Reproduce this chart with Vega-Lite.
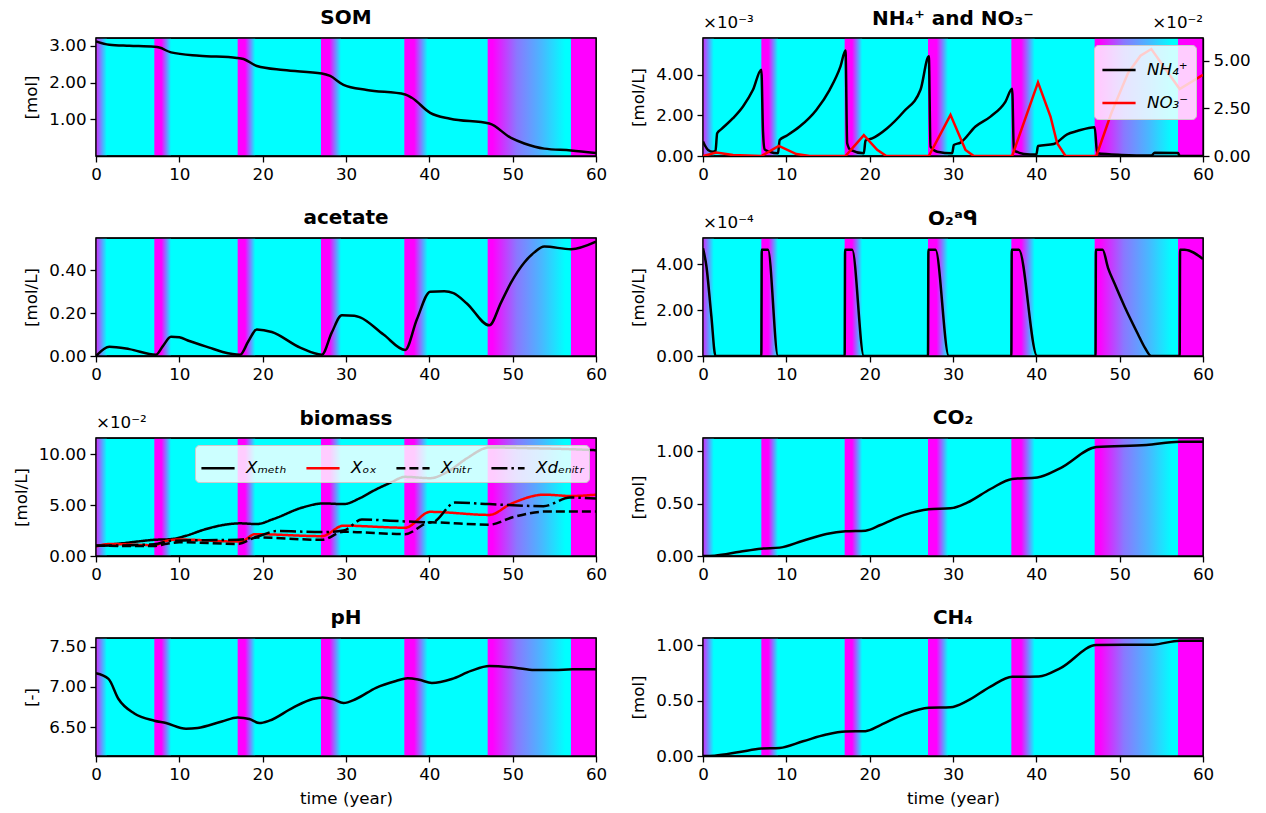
{
"$schema": "https://vega.github.io/schema/vega-lite/v6.json",
"padding": {"left": 12, "top": 7, "right": 5, "bottom": 5},
"bounds": "flush",
"columns": 2,
"spacing": {"row": 82, "column": 107},
"datasets": {
"bf": [{"t":0,"t2":1.3}],
"bs": [{"t":7,"t2":9.0},{"t":17,"t2":19.1},{"t":27,"t2":29.4},{"t":37,"t2":39.8}],
"bl": [{"t":47,"t2":57}],
"be": [{"t":57,"t2":60}],
"fr": [{"t":0,"t2":60}],
"som": [{"t":0,"v":3.12},{"t":1.6,"v":3.03},{"t":4,"v":3.0},{"t":7,"v":2.97},{"t":7.6,"v":2.95},{"t":9.0,"v":2.82},{"t":12.4,"v":2.73},{"t":16.9,"v":2.67},{"t":17.7,"v":2.64},{"t":19.3,"v":2.45},{"t":22.5,"v":2.34},{"t":27.1,"v":2.25},{"t":28.1,"v":2.18},{"t":29.7,"v":1.94},{"t":32.5,"v":1.80},{"t":37.1,"v":1.68},{"t":37.9,"v":1.59},{"t":40.1,"v":1.18},{"t":42.5,"v":1.02},{"t":47.2,"v":0.89},{"t":49.8,"v":0.50},{"t":51.4,"v":0.35},{"t":53.8,"v":0.21},{"t":57,"v":0.16},{"t":60,"v":0.09}],
"ace": [{"t":0,"v":0},{"t":1.6,"v":0.043},{"t":4,"v":0.032},{"t":7.2,"v":0.006},{"t":8.0,"v":0.045},{"t":9.0,"v":0.090},{"t":10.0,"v":0.087},{"t":11.2,"v":0.07},{"t":13.6,"v":0.039},{"t":15.2,"v":0.019},{"t":17.3,"v":0.006},{"t":18.3,"v":0.07},{"t":19.3,"v":0.124},{"t":21.1,"v":0.112},{"t":24.5,"v":0.039},{"t":27.1,"v":0.006},{"t":28.3,"v":0.11},{"t":29.5,"v":0.19},{"t":31.0,"v":0.188},{"t":31.7,"v":0.18},{"t":34.5,"v":0.10},{"t":37.1,"v":0.028},{"t":38.5,"v":0.17},{"t":40.1,"v":0.30},{"t":41.8,"v":0.302},{"t":42.9,"v":0.293},{"t":44.5,"v":0.245},{"t":47.2,"v":0.143},{"t":48.6,"v":0.249},{"t":49.8,"v":0.342},{"t":51.4,"v":0.436},{"t":52.6,"v":0.483},{"t":53.8,"v":0.51},{"t":57,"v":0.498},{"t":60,"v":0.533}],
"nh4": [{"t":0,"v":0.00071},{"t":0.2,"v":0.00054},{"t":0.6,"v":0.00030},{"t":1.2,"v":0.00021},{"t":1.5,"v":0.00025},{"t":1.7,"v":0.00112},{"t":2.2,"v":0.00132},{"t":3.6,"v":0.00186},{"t":4.8,"v":0.00244},{"t":6.0,"v":0.00326},{"t":7.0,"v":0.00425},{"t":7.2,"v":0.00120},{"t":7.4,"v":0.00033},{"t":8.0,"v":0.00021},{"t":9.0,"v":0.00013},{"t":9.2,"v":0.00079},{"t":10.0,"v":0.00099},{"t":11.6,"v":0.00145},{"t":13.6,"v":0.00227},{"t":15.2,"v":0.00326},{"t":16.5,"v":0.00441},{"t":17.1,"v":0.00519},{"t":17.3,"v":0.00063},{"t":17.7,"v":0.00030},{"t":19.3,"v":0.00013},{"t":19.5,"v":0.00076},{"t":20.3,"v":0.00087},{"t":22.1,"v":0.00137},{"t":24.1,"v":0.00219},{"t":26.1,"v":0.00326},{"t":27.1,"v":0.00491},{"t":27.3,"v":0.00046},{"t":28.1,"v":0.00021},{"t":29.9,"v":0.00013},{"t":30.1,"v":0.00054},{"t":30.9,"v":0.00066},{"t":32.7,"v":0.00145},{"t":34.5,"v":0.00194},{"t":36.3,"v":0.00268},{"t":37.1,"v":0.00331},{"t":37.3,"v":0.00030},{"t":38.5,"v":0.00010},{"t":40.0,"v":0.00007},{"t":40.2,"v":0.00049},{"t":42.1,"v":0.00059},{"t":43.7,"v":0.00107},{"t":44.9,"v":0.00123},{"t":47.0,"v":0.00142},{"t":47.3,"v":0.00013},{"t":50.2,"v":0.00005},{"t":53.8,"v":0.00002},{"t":54.2,"v":0.00016},{"t":57.0,"v":0.00015},{"t":57.2,"v":0.0},{"t":60,"v":0.0}],
"no3": [{"t":0,"v":0},{"t":1.6,"v":0.0018},{"t":3.6,"v":0.0005},{"t":7,"v":0},{"t":9.1,"v":0.0053},{"t":11.2,"v":0.001},{"t":12.8,"v":0},{"t":17.1,"v":0},{"t":19.3,"v":0.0109},{"t":20.9,"v":0.0032},{"t":22,"v":0},{"t":27.1,"v":0},{"t":29.7,"v":0.0216},{"t":31.5,"v":0.0032},{"t":32.5,"v":0},{"t":37.1,"v":0},{"t":40.2,"v":0.0386},{"t":41.7,"v":0.0207},{"t":42.5,"v":0.0067},{"t":43.5,"v":0},{"t":47.2,"v":0},{"t":49,"v":0.0225},{"t":51,"v":0.0435},{"t":52.5,"v":0.0526},{"t":53.8,"v":0.0561},{"t":57.2,"v":0.0351},{"t":60,"v":0.0426}],
"o2": [{"t":0,"v":0.000470},{"t":0.4,"v":0.000394},{"t":1.0,"v":0.000175},{"t":1.5,"v":0},{"t":7.0,"v":0},{"t":7.05,"v":0.000464},{"t":7.8,"v":0.000464},{"t":9.0,"v":0},{"t":17.0,"v":0},{"t":17.05,"v":0.000464},{"t":17.9,"v":0.000464},{"t":19.3,"v":0},{"t":27.0,"v":0},{"t":27.05,"v":0.000464},{"t":27.9,"v":0.000464},{"t":29.5,"v":0},{"t":37.0,"v":0},{"t":37.05,"v":0.000464},{"t":37.9,"v":0.000464},{"t":40.1,"v":0},{"t":47.1,"v":0},{"t":47.15,"v":0.000464},{"t":47.95,"v":0.000464},{"t":48.6,"v":0.000385},{"t":49.4,"v":0.000315},{"t":50.6,"v":0.000215},{"t":52.2,"v":0.000095},{"t":53.0,"v":0.000038},{"t":53.8,"v":0},{"t":57.2,"v":0},{"t":57.25,"v":0.000464},{"t":57.8,"v":0.000464},{"t":60,"v":0.000423}],
"bio": [
{"s":"meth","t":0,"v":0.0099},{"s":"meth","t":3.2,"v":0.0125},{"s":"meth","t":7,"v":0.0159},{"s":"meth","t":9,"v":0.0166},{"s":"meth","t":10.8,"v":0.0199},{"s":"meth","t":13,"v":0.026},{"s":"meth","t":15.2,"v":0.0304},{"s":"meth","t":17.3,"v":0.0321},{"s":"meth","t":19.3,"v":0.0314},{"s":"meth","t":21.3,"v":0.0364},{"s":"meth","t":24.9,"v":0.048},{"s":"meth","t":27.3,"v":0.0517},{"s":"meth","t":29.7,"v":0.051},{"s":"meth","t":31.7,"v":0.057},{"s":"meth","t":33.5,"v":0.065},{"s":"meth","t":35.3,"v":0.0719},{"s":"meth","t":37.1,"v":0.0778},{"s":"meth","t":40.1,"v":0.0765},{"s":"meth","t":42.5,"v":0.0845},{"s":"meth","t":44.5,"v":0.096},{"s":"meth","t":47.2,"v":0.1067},{"s":"meth","t":52,"v":0.106},{"s":"meth","t":57,"v":0.105},{"s":"meth","t":60,"v":0.104},
{"s":"ox","t":0,"v":0.0092},{"s":"ox","t":1.6,"v":0.0118},{"s":"ox","t":7,"v":0.0106},{"s":"ox","t":8.4,"v":0.0149},{"s":"ox","t":10,"v":0.0162},{"s":"ox","t":17,"v":0.0142},{"s":"ox","t":17.5,"v":0.0145},{"s":"ox","t":19.1,"v":0.0215},{"s":"ox","t":27.1,"v":0.0195},{"s":"ox","t":29.7,"v":0.0298},{"s":"ox","t":37.1,"v":0.0278},{"s":"ox","t":40.1,"v":0.0434},{"s":"ox","t":47.2,"v":0.0404},{"s":"ox","t":49.8,"v":0.0513},{"s":"ox","t":53.8,"v":0.0603},{"s":"ox","t":57,"v":0.059},{"s":"ox","t":60,"v":0.0603},
{"s":"nitr","t":0,"v":0.0100},{"s":"nitr","t":7,"v":0.0099},{"s":"nitr","t":8.5,"v":0.012},{"s":"nitr","t":10,"v":0.0135},{"s":"nitr","t":17.1,"v":0.0119},{"s":"nitr","t":19.3,"v":0.0182},{"s":"nitr","t":27.1,"v":0.0159},{"s":"nitr","t":29.7,"v":0.0238},{"s":"nitr","t":37.1,"v":0.0215},{"s":"nitr","t":40.1,"v":0.0331},{"s":"nitr","t":47.2,"v":0.0308},{"s":"nitr","t":50,"v":0.0381},{"s":"nitr","t":54,"v":0.0437},{"s":"nitr","t":60,"v":0.0437},
{"s":"denitr","t":0,"v":0.0100},{"s":"denitr","t":7,"v":0.0115},{"s":"denitr","t":9,"v":0.015},{"s":"denitr","t":17.1,"v":0.016},{"s":"denitr","t":19.3,"v":0.019},{"s":"denitr","t":21.7,"v":0.0245},{"s":"denitr","t":27.1,"v":0.0235},{"s":"denitr","t":29.7,"v":0.025},{"s":"denitr","t":31.9,"v":0.0358},{"s":"denitr","t":37.1,"v":0.034},{"s":"denitr","t":40.3,"v":0.033},{"s":"denitr","t":43.1,"v":0.0525},{"s":"denitr","t":47.2,"v":0.051},{"s":"denitr","t":53.7,"v":0.049},{"s":"denitr","t":56.9,"v":0.0575},{"s":"denitr","t":60,"v":0.0565}],
"co2": [{"t":0,"v":0},{"t":1.4,"v":0.003},{"t":4.4,"v":0.04},{"t":7,"v":0.07},{"t":9.2,"v":0.08},{"t":12,"v":0.146},{"t":14.8,"v":0.21},{"t":17.1,"v":0.236},{"t":19.5,"v":0.242},{"t":21.3,"v":0.296},{"t":24.1,"v":0.39},{"t":27.1,"v":0.446},{"t":29.7,"v":0.455},{"t":31.7,"v":0.51},{"t":34.5,"v":0.64},{"t":37.1,"v":0.736},{"t":40.1,"v":0.75},{"t":42.9,"v":0.84},{"t":47.2,"v":1.04},{"t":53.2,"v":1.06},{"t":57.2,"v":1.09},{"t":60,"v":1.09}],
"ch4": [{"t":0,"v":0},{"t":1.4,"v":0.003},{"t":4.4,"v":0.036},{"t":7,"v":0.067},{"t":9.2,"v":0.073},{"t":12,"v":0.133},{"t":14.8,"v":0.194},{"t":17.1,"v":0.221},{"t":19.5,"v":0.224},{"t":21.3,"v":0.279},{"t":24.1,"v":0.376},{"t":27.1,"v":0.436},{"t":29.7,"v":0.44},{"t":31.7,"v":0.497},{"t":34.5,"v":0.627},{"t":37.1,"v":0.715},{"t":40.3,"v":0.718},{"t":42.9,"v":0.794},{"t":47.2,"v":1.003},{"t":54,"v":1.006},{"t":57.2,"v":1.042},{"t":60,"v":1.042}],
"ph": [{"t":0,"v":7.17},{"t":1.5,"v":7.10},{"t":2.7,"v":6.85},{"t":4.6,"v":6.67},{"t":7.0,"v":6.58},{"t":8.4,"v":6.55},{"t":10.8,"v":6.48},{"t":12.2,"v":6.49},{"t":15.1,"v":6.57},{"t":17.0,"v":6.62},{"t":18.4,"v":6.60},{"t":19.6,"v":6.55},{"t":20.8,"v":6.58},{"t":23.6,"v":6.74},{"t":26.0,"v":6.85},{"t":27.2,"v":6.87},{"t":28.4,"v":6.85},{"t":29.7,"v":6.80},{"t":31.2,"v":6.85},{"t":33.6,"v":6.99},{"t":36.0,"v":7.075},{"t":37.4,"v":7.11},{"t":38.8,"v":7.09},{"t":40.3,"v":7.05},{"t":42.7,"v":7.10},{"t":45.0,"v":7.20},{"t":47.2,"v":7.26},{"t":50.3,"v":7.24},{"t":52.6,"v":7.21},{"t":55.0,"v":7.21},{"t":57.2,"v":7.22},{"t":60,"v":7.22}],
"offnh": [{"t":0,"v":0.00581,"label":"×10⁻³"}],
"offno": [{"t":60,"v":0.00581,"label":"×10⁻²"}],
"offo2": [{"t":0,"v":0.000515,"label":"×10⁻⁴"}],
"offbio": [{"t":0,"v":0.116,"label":"×10⁻²"}]
},
"concat": [
{"title":"SOM","width":500,"height":118,
 "encoding":{"x":{"field":"t","type":"quantitative","scale":{"domain":[0,60],"nice":false},"axis":{"values":[0,10,20,30,40,50,60],"title":null}}},
 "layer":[
  {"data":{"name":"bf"},"mark":{"type":"rect","fill":{"gradient":"linear","x1":0,"x2":1,"y1":0,"y2":0,"stops":[{"offset":0,"color":"#d428ff"},{"offset":1,"color":"#00ffff"}]}},"encoding":{"x2":{"field":"t2"}}},
  {"data":{"name":"bs"},"mark":{"type":"rect","fill":{"gradient":"linear","x1":0,"x2":1,"y1":0,"y2":0,"stops":[{"offset":0,"color":"#ff00ff"},{"offset":0.42,"color":"#ff00ff"},{"offset":1,"color":"#00ffff"}]}},"encoding":{"x2":{"field":"t2"}}},
  {"data":{"name":"bl"},"mark":{"type":"rect","fill":{"gradient":"linear","x1":0,"x2":1,"y1":0,"y2":0,"stops":[{"offset":0,"color":"#ff00ff"},{"offset":0.06,"color":"#ff00ff"},{"offset":0.35,"color":"#8a78ff"},{"offset":0.65,"color":"#48b8ff"},{"offset":0.93,"color":"#00ffff"},{"offset":1,"color":"#00ffff"}]}},"encoding":{"x2":{"field":"t2"}}},
  {"data":{"name":"be"},"mark":{"type":"rect","fill":"#ff00ff"},"encoding":{"x2":{"field":"t2"}}},
  {"data":{"name":"som"},"mark":{"type":"line","color":"black","strokeWidth":2.5,"interpolate":"monotone","clip":true},
   "encoding":{"y":{"field":"v","type":"quantitative","scale":{"domain":[0.01,3.21],"nice":false,"zero":false},"axis":{"values":[1,2,3],"format":".2f","title":"[mol]"}}}},
  {"data":{"name":"fr"},"mark":{"type":"rect","fill":null,"stroke":"black","strokeWidth":1.3},"encoding":{"x2":{"field":"t2"}}}
 ]},
{"title":{"text":"NH₄⁺ and NO₃⁻","offset":-14},"width":500,"height":118,
 "encoding":{"x":{"field":"t","type":"quantitative","scale":{"domain":[0,60],"nice":false},"axis":{"values":[0,10,20,30,40,50,60],"title":null}}},
 "layer":[
  {"layer":[
   {"data":{"name":"bf"},"mark":{"type":"rect","fill":{"gradient":"linear","x1":0,"x2":1,"y1":0,"y2":0,"stops":[{"offset":0,"color":"#d428ff"},{"offset":1,"color":"#00ffff"}]}},"encoding":{"x2":{"field":"t2"}}},
   {"data":{"name":"bs"},"mark":{"type":"rect","fill":{"gradient":"linear","x1":0,"x2":1,"y1":0,"y2":0,"stops":[{"offset":0,"color":"#ff00ff"},{"offset":0.42,"color":"#ff00ff"},{"offset":1,"color":"#00ffff"}]}},"encoding":{"x2":{"field":"t2"}}},
   {"data":{"name":"bl"},"mark":{"type":"rect","fill":{"gradient":"linear","x1":0,"x2":1,"y1":0,"y2":0,"stops":[{"offset":0,"color":"#ff00ff"},{"offset":0.06,"color":"#ff00ff"},{"offset":0.35,"color":"#8a78ff"},{"offset":0.65,"color":"#48b8ff"},{"offset":0.93,"color":"#00ffff"},{"offset":1,"color":"#00ffff"}]}},"encoding":{"x2":{"field":"t2"}}},
   {"data":{"name":"be"},"mark":{"type":"rect","fill":"#ff00ff"},"encoding":{"x2":{"field":"t2"}}},
   {"data":{"name":"nh4"},"mark":{"type":"line","strokeWidth":2.5,"interpolate":"monotone","clip":true},
    "encoding":{"y":{"field":"v","type":"quantitative","scale":{"domain":[0,0.00581],"nice":false},"axis":{"values":[0,0.002,0.004],"labelExpr":"format(datum.value*1000,'.2f')","title":"[mol/L]"}},
     "color":{"datum":"NH₄⁺","type":"nominal","scale":{"domain":["NH₄⁺","NO₃⁻"],"range":["black","red"]},
      "legend":{"title":null,"orient":"top-right","offset":7,"symbolType":"stroke","symbolStrokeWidth":2.5,"symbolSize":1100,"labelFontSize":16.7,"labelFontStyle":"italic","labelColor":"black","fillColor":"rgba(255,255,255,0.8)","strokeColor":"#cccccc","cornerRadius":4,"padding":7,"rowPadding":6,"labelOffset":10}}}},
   {"data":{"name":"offnh"},"mark":{"type":"text","align":"left","baseline":"bottom","dy":-6,"fontSize":16.7,"color":"black"},"encoding":{"y":{"field":"v","type":"quantitative"},"text":{"field":"label"}}},
   {"data":{"name":"offno"},"mark":{"type":"text","align":"right","baseline":"bottom","dy":-6,"fontSize":16.7,"color":"black"},"encoding":{"y":{"field":"v","type":"quantitative"},"text":{"field":"label"}}},
   {"data":{"name":"fr"},"mark":{"type":"rect","fill":null,"stroke":"black","strokeWidth":1.3},"encoding":{"x2":{"field":"t2"}}}
  ]},
  {"data":{"name":"no3"},"mark":{"type":"line","strokeWidth":2.5,"clip":true},
   "encoding":{"y":{"field":"v","type":"quantitative","scale":{"domain":[0,0.0619],"nice":false},"axis":{"orient":"right","values":[0,0.025,0.05],"labelExpr":"format(datum.value*100,'.2f')","title":null}},
    "color":{"datum":"NO₃⁻","type":"nominal"}}}
 ],
 "resolve":{"scale":{"y":"independent"}}},
{"title":"acetate","width":500,"height":118,
 "encoding":{"x":{"field":"t","type":"quantitative","scale":{"domain":[0,60],"nice":false},"axis":{"values":[0,10,20,30,40,50,60],"title":null}}},
 "layer":[
  {"data":{"name":"bf"},"mark":{"type":"rect","fill":{"gradient":"linear","x1":0,"x2":1,"y1":0,"y2":0,"stops":[{"offset":0,"color":"#d428ff"},{"offset":1,"color":"#00ffff"}]}},"encoding":{"x2":{"field":"t2"}}},
  {"data":{"name":"bs"},"mark":{"type":"rect","fill":{"gradient":"linear","x1":0,"x2":1,"y1":0,"y2":0,"stops":[{"offset":0,"color":"#ff00ff"},{"offset":0.42,"color":"#ff00ff"},{"offset":1,"color":"#00ffff"}]}},"encoding":{"x2":{"field":"t2"}}},
  {"data":{"name":"bl"},"mark":{"type":"rect","fill":{"gradient":"linear","x1":0,"x2":1,"y1":0,"y2":0,"stops":[{"offset":0,"color":"#ff00ff"},{"offset":0.06,"color":"#ff00ff"},{"offset":0.35,"color":"#8a78ff"},{"offset":0.65,"color":"#48b8ff"},{"offset":0.93,"color":"#00ffff"},{"offset":1,"color":"#00ffff"}]}},"encoding":{"x2":{"field":"t2"}}},
  {"data":{"name":"be"},"mark":{"type":"rect","fill":"#ff00ff"},"encoding":{"x2":{"field":"t2"}}},
  {"data":{"name":"ace"},"mark":{"type":"line","color":"black","strokeWidth":2.5,"interpolate":"monotone","clip":true},
   "encoding":{"y":{"field":"v","type":"quantitative","scale":{"domain":[0,0.55],"nice":false},"axis":{"values":[0,0.2,0.4],"format":".2f","title":"[mol/L]"}}}},
  {"data":{"name":"fr"},"mark":{"type":"rect","fill":null,"stroke":"black","strokeWidth":1.3},"encoding":{"x2":{"field":"t2"}}}
 ]},
{"title":{"text":"O₂ᵃᑫ","offset":-14},"width":500,"height":118,
 "encoding":{"x":{"field":"t","type":"quantitative","scale":{"domain":[0,60],"nice":false},"axis":{"values":[0,10,20,30,40,50,60],"title":null}}},
 "layer":[
  {"data":{"name":"bf"},"mark":{"type":"rect","fill":{"gradient":"linear","x1":0,"x2":1,"y1":0,"y2":0,"stops":[{"offset":0,"color":"#d428ff"},{"offset":1,"color":"#00ffff"}]}},"encoding":{"x2":{"field":"t2"}}},
  {"data":{"name":"bs"},"mark":{"type":"rect","fill":{"gradient":"linear","x1":0,"x2":1,"y1":0,"y2":0,"stops":[{"offset":0,"color":"#ff00ff"},{"offset":0.42,"color":"#ff00ff"},{"offset":1,"color":"#00ffff"}]}},"encoding":{"x2":{"field":"t2"}}},
  {"data":{"name":"bl"},"mark":{"type":"rect","fill":{"gradient":"linear","x1":0,"x2":1,"y1":0,"y2":0,"stops":[{"offset":0,"color":"#ff00ff"},{"offset":0.06,"color":"#ff00ff"},{"offset":0.35,"color":"#8a78ff"},{"offset":0.65,"color":"#48b8ff"},{"offset":0.93,"color":"#00ffff"},{"offset":1,"color":"#00ffff"}]}},"encoding":{"x2":{"field":"t2"}}},
  {"data":{"name":"be"},"mark":{"type":"rect","fill":"#ff00ff"},"encoding":{"x2":{"field":"t2"}}},
  {"data":{"name":"o2"},"mark":{"type":"line","color":"black","strokeWidth":2.5,"interpolate":"monotone","clip":true},
   "encoding":{"y":{"field":"v","type":"quantitative","scale":{"domain":[0,0.000515],"nice":false},"axis":{"values":[0,0.0002,0.0004],"labelExpr":"format(datum.value*10000,'.2f')","title":"[mol/L]"}}}},
  {"data":{"name":"offo2"},"mark":{"type":"text","align":"left","baseline":"bottom","dy":-6,"fontSize":16.7,"color":"black"},"encoding":{"y":{"field":"v","type":"quantitative"},"text":{"field":"label"}}},
  {"data":{"name":"fr"},"mark":{"type":"rect","fill":null,"stroke":"black","strokeWidth":1.3},"encoding":{"x2":{"field":"t2"}}}
 ]},
{"title":{"text":"biomass","offset":-14},"width":500,"height":118,
 "encoding":{"x":{"field":"t","type":"quantitative","scale":{"domain":[0,60],"nice":false},"axis":{"values":[0,10,20,30,40,50,60],"title":null}}},
 "layer":[
  {"data":{"name":"bf"},"mark":{"type":"rect","fill":{"gradient":"linear","x1":0,"x2":1,"y1":0,"y2":0,"stops":[{"offset":0,"color":"#d428ff"},{"offset":1,"color":"#00ffff"}]}},"encoding":{"x2":{"field":"t2"}}},
  {"data":{"name":"bs"},"mark":{"type":"rect","fill":{"gradient":"linear","x1":0,"x2":1,"y1":0,"y2":0,"stops":[{"offset":0,"color":"#ff00ff"},{"offset":0.42,"color":"#ff00ff"},{"offset":1,"color":"#00ffff"}]}},"encoding":{"x2":{"field":"t2"}}},
  {"data":{"name":"bl"},"mark":{"type":"rect","fill":{"gradient":"linear","x1":0,"x2":1,"y1":0,"y2":0,"stops":[{"offset":0,"color":"#ff00ff"},{"offset":0.06,"color":"#ff00ff"},{"offset":0.35,"color":"#8a78ff"},{"offset":0.65,"color":"#48b8ff"},{"offset":0.93,"color":"#00ffff"},{"offset":1,"color":"#00ffff"}]}},"encoding":{"x2":{"field":"t2"}}},
  {"data":{"name":"be"},"mark":{"type":"rect","fill":"#ff00ff"},"encoding":{"x2":{"field":"t2"}}},
  {"data":{"name":"bio"},"mark":{"type":"line","strokeWidth":2.5,"interpolate":"monotone","clip":true},
   "encoding":{"y":{"field":"v","type":"quantitative","scale":{"domain":[0,0.116],"nice":false},"axis":{"values":[0,0.05,0.1],"labelExpr":"format(datum.value*100,'.2f')","title":"[mol/L]"}},
    "detail":{"field":"s"},
    "color":{"field":"s","type":"nominal","scale":{"domain":["meth","ox","nitr","denitr"],"range":["black","red","black","black"]},
     "legend":{"title":null,"orient":"top-right","offset":7,"direction":"horizontal","columns":4,"symbolType":"stroke","symbolStrokeWidth":2.5,"symbolSize":1100,"labelFontSize":16.7,"labelFontStyle":"italic","labelColor":"black","fillColor":"rgba(255,255,255,0.8)","strokeColor":"#cccccc","cornerRadius":4,"padding":5,"columnPadding":14,"labelOffset":10,
      "labelExpr":"datum.value=='meth'?'Xₘₑₜₕ':datum.value=='ox'?'Xₒₓ':datum.value=='nitr'?'Xₙᵢₜᵣ':'Xdₑₙᵢₜᵣ'"}},
    "strokeDash":{"field":"s","type":"nominal","scale":{"domain":["meth","ox","nitr","denitr"],"range":[[1,0],[1,0],[9,4],[16,4,2.5,4]]},
     "legend":{"title":null,"orient":"top-right","offset":7,"direction":"horizontal","columns":4,"symbolType":"stroke","symbolStrokeWidth":2.5,"symbolSize":1100,"labelFontSize":16.7,"labelFontStyle":"italic","labelColor":"black","fillColor":"rgba(255,255,255,0.8)","strokeColor":"#cccccc","cornerRadius":4,"padding":5,"columnPadding":14,"labelOffset":10,
      "labelExpr":"datum.value=='meth'?'Xₘₑₜₕ':datum.value=='ox'?'Xₒₓ':datum.value=='nitr'?'Xₙᵢₜᵣ':'Xdₑₙᵢₜᵣ'"}}}},
  {"data":{"name":"offbio"},"mark":{"type":"text","align":"left","baseline":"bottom","dy":-6,"fontSize":16.7,"color":"black"},"encoding":{"y":{"field":"v","type":"quantitative"},"text":{"field":"label"}}},
  {"data":{"name":"fr"},"mark":{"type":"rect","fill":null,"stroke":"black","strokeWidth":1.3},"encoding":{"x2":{"field":"t2"}}}
 ]},
{"title":"CO₂","width":500,"height":118,
 "encoding":{"x":{"field":"t","type":"quantitative","scale":{"domain":[0,60],"nice":false},"axis":{"values":[0,10,20,30,40,50,60],"title":null}}},
 "layer":[
  {"data":{"name":"bf"},"mark":{"type":"rect","fill":{"gradient":"linear","x1":0,"x2":1,"y1":0,"y2":0,"stops":[{"offset":0,"color":"#d428ff"},{"offset":1,"color":"#00ffff"}]}},"encoding":{"x2":{"field":"t2"}}},
  {"data":{"name":"bs"},"mark":{"type":"rect","fill":{"gradient":"linear","x1":0,"x2":1,"y1":0,"y2":0,"stops":[{"offset":0,"color":"#ff00ff"},{"offset":0.42,"color":"#ff00ff"},{"offset":1,"color":"#00ffff"}]}},"encoding":{"x2":{"field":"t2"}}},
  {"data":{"name":"bl"},"mark":{"type":"rect","fill":{"gradient":"linear","x1":0,"x2":1,"y1":0,"y2":0,"stops":[{"offset":0,"color":"#ff00ff"},{"offset":0.06,"color":"#ff00ff"},{"offset":0.35,"color":"#8a78ff"},{"offset":0.65,"color":"#48b8ff"},{"offset":0.93,"color":"#00ffff"},{"offset":1,"color":"#00ffff"}]}},"encoding":{"x2":{"field":"t2"}}},
  {"data":{"name":"be"},"mark":{"type":"rect","fill":"#ff00ff"},"encoding":{"x2":{"field":"t2"}}},
  {"data":{"name":"co2"},"mark":{"type":"line","color":"black","strokeWidth":2.5,"interpolate":"monotone","clip":true},
   "encoding":{"y":{"field":"v","type":"quantitative","scale":{"domain":[0,1.127],"nice":false},"axis":{"values":[0,0.5,1],"format":".2f","title":"[mol]"}}}},
  {"data":{"name":"fr"},"mark":{"type":"rect","fill":null,"stroke":"black","strokeWidth":1.3},"encoding":{"x2":{"field":"t2"}}}
 ]},
{"title":"pH","width":500,"height":118,
 "encoding":{"x":{"field":"t","type":"quantitative","scale":{"domain":[0,60],"nice":false},"axis":{"values":[0,10,20,30,40,50,60],"title":"time (year)"}}},
 "layer":[
  {"data":{"name":"bf"},"mark":{"type":"rect","fill":{"gradient":"linear","x1":0,"x2":1,"y1":0,"y2":0,"stops":[{"offset":0,"color":"#d428ff"},{"offset":1,"color":"#00ffff"}]}},"encoding":{"x2":{"field":"t2"}}},
  {"data":{"name":"bs"},"mark":{"type":"rect","fill":{"gradient":"linear","x1":0,"x2":1,"y1":0,"y2":0,"stops":[{"offset":0,"color":"#ff00ff"},{"offset":0.42,"color":"#ff00ff"},{"offset":1,"color":"#00ffff"}]}},"encoding":{"x2":{"field":"t2"}}},
  {"data":{"name":"bl"},"mark":{"type":"rect","fill":{"gradient":"linear","x1":0,"x2":1,"y1":0,"y2":0,"stops":[{"offset":0,"color":"#ff00ff"},{"offset":0.06,"color":"#ff00ff"},{"offset":0.35,"color":"#8a78ff"},{"offset":0.65,"color":"#48b8ff"},{"offset":0.93,"color":"#00ffff"},{"offset":1,"color":"#00ffff"}]}},"encoding":{"x2":{"field":"t2"}}},
  {"data":{"name":"be"},"mark":{"type":"rect","fill":"#ff00ff"},"encoding":{"x2":{"field":"t2"}}},
  {"data":{"name":"ph"},"mark":{"type":"line","color":"black","strokeWidth":2.5,"interpolate":"monotone","clip":true},
   "encoding":{"y":{"field":"v","type":"quantitative","scale":{"domain":[6.14,7.61],"nice":false,"zero":false},"axis":{"values":[6.5,7,7.5],"format":".2f","title":"[-]"}}}},
  {"data":{"name":"fr"},"mark":{"type":"rect","fill":null,"stroke":"black","strokeWidth":1.3},"encoding":{"x2":{"field":"t2"}}}
 ]},
{"title":"CH₄","width":500,"height":118,
 "encoding":{"x":{"field":"t","type":"quantitative","scale":{"domain":[0,60],"nice":false},"axis":{"values":[0,10,20,30,40,50,60],"title":"time (year)"}}},
 "layer":[
  {"data":{"name":"bf"},"mark":{"type":"rect","fill":{"gradient":"linear","x1":0,"x2":1,"y1":0,"y2":0,"stops":[{"offset":0,"color":"#d428ff"},{"offset":1,"color":"#00ffff"}]}},"encoding":{"x2":{"field":"t2"}}},
  {"data":{"name":"bs"},"mark":{"type":"rect","fill":{"gradient":"linear","x1":0,"x2":1,"y1":0,"y2":0,"stops":[{"offset":0,"color":"#ff00ff"},{"offset":0.42,"color":"#ff00ff"},{"offset":1,"color":"#00ffff"}]}},"encoding":{"x2":{"field":"t2"}}},
  {"data":{"name":"bl"},"mark":{"type":"rect","fill":{"gradient":"linear","x1":0,"x2":1,"y1":0,"y2":0,"stops":[{"offset":0,"color":"#ff00ff"},{"offset":0.06,"color":"#ff00ff"},{"offset":0.35,"color":"#8a78ff"},{"offset":0.65,"color":"#48b8ff"},{"offset":0.93,"color":"#00ffff"},{"offset":1,"color":"#00ffff"}]}},"encoding":{"x2":{"field":"t2"}}},
  {"data":{"name":"be"},"mark":{"type":"rect","fill":"#ff00ff"},"encoding":{"x2":{"field":"t2"}}},
  {"data":{"name":"ch4"},"mark":{"type":"line","color":"black","strokeWidth":2.5,"interpolate":"monotone","clip":true},
   "encoding":{"y":{"field":"v","type":"quantitative","scale":{"domain":[0,1.066],"nice":false},"axis":{"values":[0,0.5,1],"format":".2f","title":"[mol]"}}}},
  {"data":{"name":"fr"},"mark":{"type":"rect","fill":null,"stroke":"black","strokeWidth":1.3},"encoding":{"x2":{"field":"t2"}}}
 ]}
],
"resolve": {"scale": {"color": "independent", "strokeDash": "independent"}},
"config": {
 "font": "DejaVu Sans",
 "background": "white",
 "view": {"fill": "#00ffff", "stroke": "black", "strokeWidth": 1.3},
 "axis": {"grid": false, "domainColor": "black", "domainWidth": 1.3, "tickColor": "black", "tickWidth": 1.3, "tickSize": 6, "labelFontSize": 16.7, "labelColor": "black", "labelPadding": 4, "labelFlush": false, "labelOverlap": false, "titleFontSize": 16.7, "titleFontWeight": "normal", "titleColor": "black", "titlePadding": 8},
 "title": {"fontSize": 20, "fontWeight": "bold", "offset": 9, "color": "black"}
}
}
